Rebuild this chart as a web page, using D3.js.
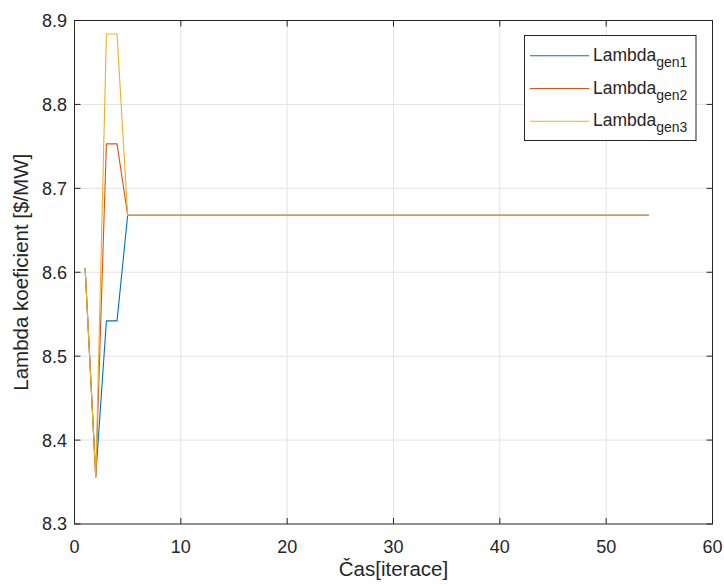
<!DOCTYPE html>
<html>
<head>
<meta charset="utf-8">
<script src="https://d3js.org/d3.v7.min.js"></script>
<style>
  body { margin: 0; background: #fff; font-family: 'Liberation Sans', Arial, sans-serif; }
  svg text { fill: #262626; }
</style>
</head>
<body>
<svg width="724" height="584"></svg>
<script>
// iterations and lambda values per generator
const iterace = d3.range(1, 55);
const gen1Start = [8.605, 8.357, 8.542, 8.542, 8.668];
const gen2Start = [8.605, 8.355, 8.753, 8.753, 8.668];
const gen3Start = [8.605, 8.355, 8.884, 8.884, 8.668];
const ustaleno = 8.668; // value after convergence (iteration 5 .. 54)
const names = ["gen1", "gen2", "gen3"];
const colors = ["#0072BD", "#D95319", "#EDB120"];
const xTicks = [0, 10, 20, 30, 40, 50, 60];
const yTicks = [8.3, 8.4, 8.5, 8.6, 8.7, 8.8, 8.9];

function fill(start) {
  return iterace.map((it, i) => ({ x: it, y: i < start.length ? start[i] : ustaleno }));
}
const series = [fill(gen1Start), fill(gen2Start), fill(gen3Start)];

const svg = d3.select("svg");
const pL = 74.5, pR = 712.5, pT = 20.5, pB = 524;

const x = d3.scaleLinear().domain([0, 60]).range([pL, pR]);
const y = d3.scaleLinear().domain([8.3, 8.9]).range([pB, pT]);

// grid
svg.append("g").selectAll("line").data(xTicks.slice(1, -1)).join("line")
  .attr("x1", d => x(d)).attr("x2", d => x(d)).attr("y1", pT).attr("y2", pB)
  .attr("stroke", "#e3e3e3").attr("stroke-width", 1);
svg.append("g").selectAll("line").data(yTicks.slice(1, -1)).join("line")
  .attr("y1", d => y(d)).attr("y2", d => y(d)).attr("x1", pL).attr("x2", pR)
  .attr("stroke", "#e3e3e3").attr("stroke-width", 1);

// lines
const line = d3.line().x(d => x(d.x)).y(d => y(d.y));
svg.append("g").selectAll("path").data(series).join("path")
  .attr("d", line)
  .attr("fill", "none")
  .attr("stroke", (d, i) => colors[i])
  .attr("stroke-width", 1.1);

// box + ticks
const ax = svg.append("g").attr("stroke", "#262626").attr("stroke-width", 1);
ax.append("rect").attr("x", pL).attr("y", pT).attr("width", pR - pL).attr("height", pB - pT)
  .attr("fill", "none");
const tl = 6;
xTicks.forEach(t => {
  ax.append("line").attr("x1", x(t)).attr("x2", x(t)).attr("y1", pB).attr("y2", pB - tl);
  ax.append("line").attr("x1", x(t)).attr("x2", x(t)).attr("y1", pT).attr("y2", pT + tl);
});
yTicks.forEach(t => {
  ax.append("line").attr("y1", y(t)).attr("y2", y(t)).attr("x1", pL).attr("x2", pL + tl);
  ax.append("line").attr("y1", y(t)).attr("y2", y(t)).attr("x1", pR).attr("x2", pR - tl);
});

// tick labels
svg.append("g").selectAll("text").data(xTicks).join("text")
  .attr("x", d => x(d)).attr("y", 553)
  .attr("text-anchor", "middle").attr("font-size", 18)
  .text(d => d);
svg.append("g").selectAll("text").data(yTicks).join("text")
  .attr("x", 67).attr("y", d => y(d)).attr("dy", "0.36em")
  .attr("text-anchor", "end").attr("font-size", 18)
  .text(d => d.toFixed(1));

// axis labels
svg.append("text").attr("x", (pL + pR) / 2).attr("y", 576)
  .attr("text-anchor", "middle").attr("font-size", 20.5).text("Čas[iterace]");
svg.append("text").attr("transform", `translate(28,${(pT + pB) / 2}) rotate(-90)`)
  .attr("text-anchor", "middle").attr("font-size", 20.5).text("Lambda koeficient [$/MW]");

// legend
const lg = svg.append("g");
lg.append("rect").attr("x", 524.5).attr("y", 35.5).attr("width", 171.5).attr("height", 105)
  .attr("fill", "#fff").attr("stroke", "#262626").attr("stroke-width", 1);
const ly = d3.scalePoint().domain(names).range([55.7, 121.3]);
names.forEach((n, i) => {
  lg.append("line").attr("x1", 530).attr("x2", 589).attr("y1", ly(n)).attr("y2", ly(n))
    .attr("stroke", colors[i]).attr("stroke-width", 1.1);
  const t = lg.append("text").attr("x", 593).attr("y", ly(n) + 5).attr("font-size", 17.5);
  t.append("tspan").text("Lambda");
  t.append("tspan").attr("dy", 6).attr("font-size", 14).text(n);
});
</script>
</body>
</html>
